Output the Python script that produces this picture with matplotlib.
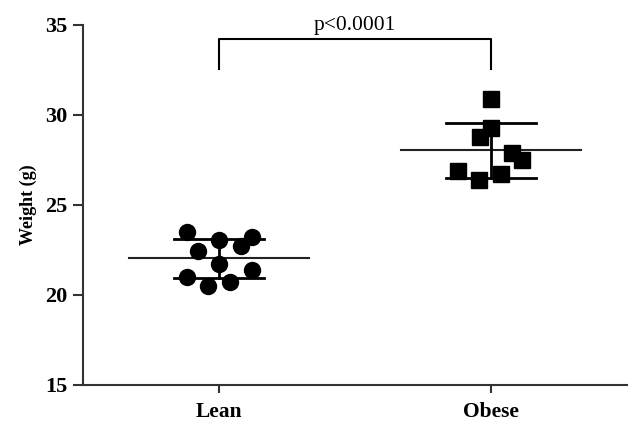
import matplotlib.pyplot as plt
import numpy as np

plt.rcParams['font.family'] = ['Liberation Serif', 'DejaVu Serif']

# values (g)
groups = ['Lean', 'Obese']
lean = [23.5, 23.22, 23.06, 22.44, 22.72, 21.72, 21.0, 21.39, 20.5, 20.72]
obese = [30.89, 29.28, 28.78, 27.89, 27.5, 26.89, 26.39, 26.72]
# horizontal scatter offsets of each point
lean_dx = [-0.118, 0.122, 0.0, -0.078, 0.081, 0.0, -0.118, 0.122, -0.041, 0.041]
obese_dx = [0.0, 0.0, -0.041, 0.077, 0.114, -0.122, -0.044, 0.037]
p_text = 'p<0.0001'

fig = plt.figure(figsize=(6.41, 4.29), dpi=100)
ax = fig.add_axes([0.1295, 0.1026, 0.8487, 0.8392])

data = [lean, obese]
offs = [lean_dx, obese_dx]
markers = ['o', 's']
for i, (vals, dx, m) in enumerate(zip(data, offs, markers)):
    vals = np.array(vals)
    mean = vals.mean()
    sd = vals.std(ddof=1)
    # mean line + sd bars
    ax.plot([i - 0.33, i + 0.33], [mean, mean], color='#222222', lw=1.5, zorder=2)
    ax.plot([i - 0.165, i + 0.165], [mean + sd, mean + sd], color='black', lw=2, zorder=2)
    ax.plot([i - 0.165, i + 0.165], [mean - sd, mean - sd], color='black', lw=2, zorder=2)
    ax.plot([i, i], [mean - sd, mean + sd], color='black', lw=2, zorder=2)
    ax.plot(i + np.array(dx), vals, linestyle='none', marker=m, ms=11.5,
            color='black', zorder=3)

# significance bracket
ax.plot([0, 0, 1, 1], [32.55, 34.22, 34.22, 32.55], color='black', lw=1.5,
        clip_on=False)
ax.text(0.5, 34.45, p_text, ha='center', va='bottom', fontsize=15.5,
        clip_on=False)

ax.set_xlim(-0.5, 1.5)
ax.set_ylim(15, 35)
ax.set_yticks([15, 20, 25, 30, 35])
ax.set_xticks([0, 1])
ax.set_xticklabels(groups, fontsize=15.5, fontweight='bold')
for lab in ax.get_yticklabels():
    lab.set_fontsize(16)
    lab.set_fontweight('bold')
ax.set_ylabel('Weight (g)', fontsize=13, fontweight='bold', labelpad=6)

ax.spines['top'].set_visible(False)
ax.spines['right'].set_visible(False)
for s in ['left', 'bottom']:
    ax.spines[s].set_linewidth(1.5)
    ax.spines[s].set_color('#333333')
ax.tick_params(axis='y', length=7, width=1.5, color='#333333', pad=4)
ax.tick_params(axis='x', length=6, width=1.5, color='#333333', pad=6)

fig.savefig('out.png', dpi=100)
